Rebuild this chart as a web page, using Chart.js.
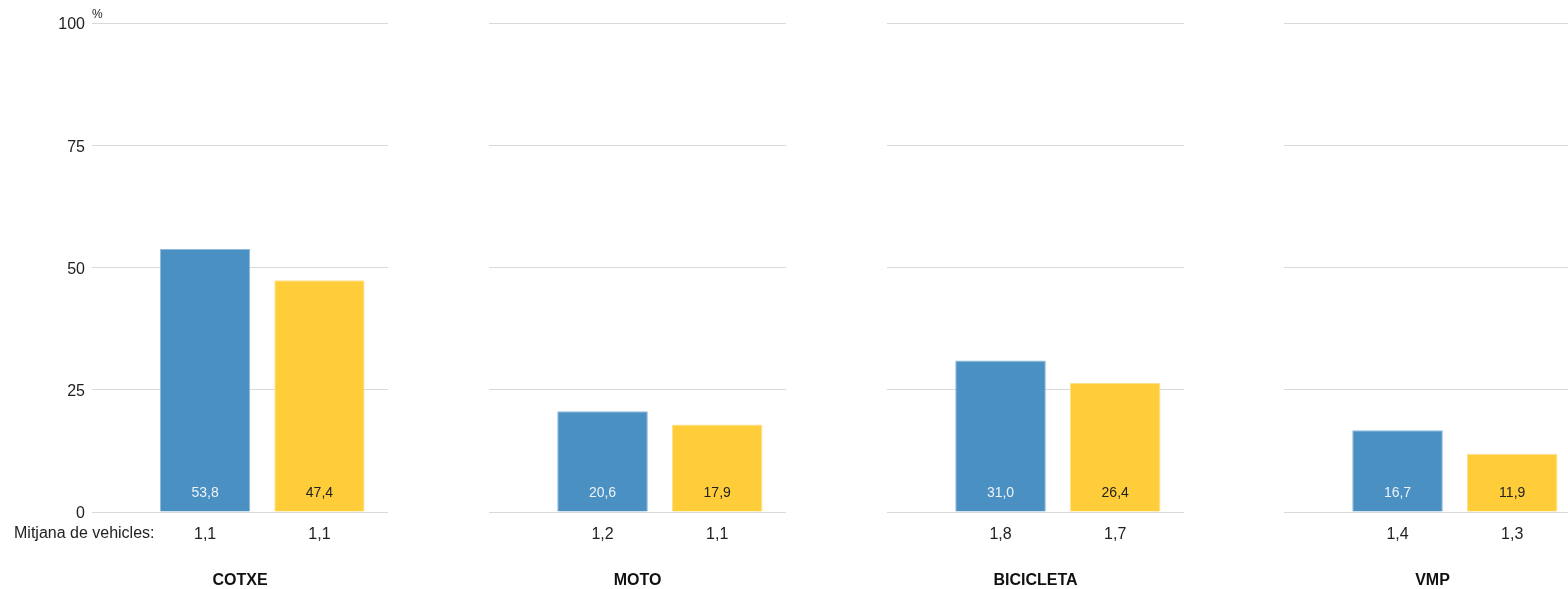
<!DOCTYPE html>
<html>
<head>
<meta charset="utf-8">
<script src="https://cdn.jsdelivr.net/npm/chart.js@4"></script>
<style>
  body { margin: 0; background: #fff; }
  #wrap { position: relative; width: 1568px; height: 589px; overflow: hidden; }
  #wrap div { position: absolute; top: 0; height: 589px; }
</style>
</head>
<body>
<div id="wrap">
  <div id="p0" style="left:0;width:388px"><canvas id="c0"></canvas></div>
  <div id="p1" style="left:489px;width:297px"><canvas id="c1"></canvas></div>
  <div id="p2" style="left:887px;width:297px"><canvas id="c2"></canvas></div>
  <div id="p3" style="left:1284px;width:297px"><canvas id="c3"></canvas></div>
</div>
<script>
// dades
const categories   = ["COTXE", "MOTO", "BICICLETA", "VMP"];
const blueValues   = [53.8, 20.6, 31.0, 16.7];
const yellowValues = [47.4, 17.9, 26.4, 11.9];
const blueMitjana  = ["1,1", "1,2", "1,8", "1,4"];
const yellowMitjana= ["1,1", "1,1", "1,7", "1,3"];
const yTicks       = [0, 25, 50, 75, 100];

const FONT = "'Liberation Sans', Arial, sans-serif";
const BLUE = "#4a90c2";
const YELLOW = "#ffcd3a";

const fmt = v => v.toFixed(1).replace(".", ",");

// etiquetes dins les barres
const barLabels = {
  id: "barLabels",
  afterDatasetsDraw(chart) {
    const { ctx } = chart;
    const y0 = chart.scales.y.getPixelForValue(0);
    ctx.save();
    ctx.font = "14px " + FONT;
    ctx.textAlign = "center";
    ctx.textBaseline = "middle";
    chart.getDatasetMeta(0).data.forEach((bar, i) => {
      const v = chart.data.datasets[0].data[i].y;
      ctx.fillStyle = i === 0 ? "#eef3f9" : "#222";
      ctx.fillText(fmt(v), bar.x, y0 - 19);
    });
    ctx.restore();
  }
};

// "%" i "Mitjana de vehicles:" (només primer panell)
const extraText = {
  id: "extraText",
  afterDraw(chart) {
    if (chart.canvas.id !== "c0") return;
    const { ctx } = chart;
    ctx.save();
    ctx.fillStyle = "#222";
    ctx.font = "12px " + FONT;
    ctx.textAlign = "left";
    ctx.textBaseline = "middle";
    ctx.fillText("%", 92, 15);
    ctx.font = "16px " + FONT;
    ctx.fillText("Mitjana de vehicles:", 14, 534);
    ctx.restore();
  }
};

function drawPanel(i) {
  const first = i === 0;
  const mitjana = [blueMitjana[i], yellowMitjana[i]];
  new Chart(document.getElementById("c" + i), {
    type: "bar",
    data: {
      datasets: [{
        data: [{ x: 0, y: blueValues[i] }, { x: 1, y: yellowValues[i] }],
        backgroundColor: [BLUE, YELLOW],
        borderColor: ["#8fbbdc", "#ffe08a"],
        borderWidth: 1,
        categoryPercentage: 1,
        barPercentage: 0.79
      }]
    },
    options: {
      responsive: true,
      maintainAspectRatio: false,
      animation: false,
      layout: { padding: { top: 23, left: 0, right: 0, bottom: 0 } },
      plugins: { legend: { display: false }, tooltip: { enabled: false } },
      scales: {
        x: {
          type: "linear",
          offset: false,
          min: -0.99,
          max: 1.6,
          grid: { display: false },
          border: { display: false },
          afterBuildTicks: s => { s.ticks = [{ value: 0 }, { value: 1 }]; },
          afterFit: s => { s.height = 77; },
          ticks: {
            padding: 5,
            color: "#222",
            font: { family: FONT, size: 16 },
            callback: (v, idx) => mitjana[idx]
          },
          title: {
            display: true,
            text: categories[i],
            color: "#111",
            font: { family: FONT, size: 16, weight: "bold", lineHeight: 1.05 },
            padding: { top: 0, bottom: 0 }
          }
        },
        y: {
          min: 0,
          max: 100,
          afterBuildTicks: s => { s.ticks = yTicks.map(v => ({ value: v })); },
          afterFit: s => { s.width = first ? 92 : 0; },
          grid: { color: "#d9d9d9", lineWidth: 1, drawTicks: false },
          border: { display: false },
          ticks: {
            display: first,
            padding: 7,
            labelOffset: 2,
            color: "#222",
            font: { family: FONT, size: 16 }
          }
        }
      }
    },
    plugins: [barLabels, extraText]
  });
}

categories.forEach((c, i) => drawPanel(i));
</script>
</body>
</html>
